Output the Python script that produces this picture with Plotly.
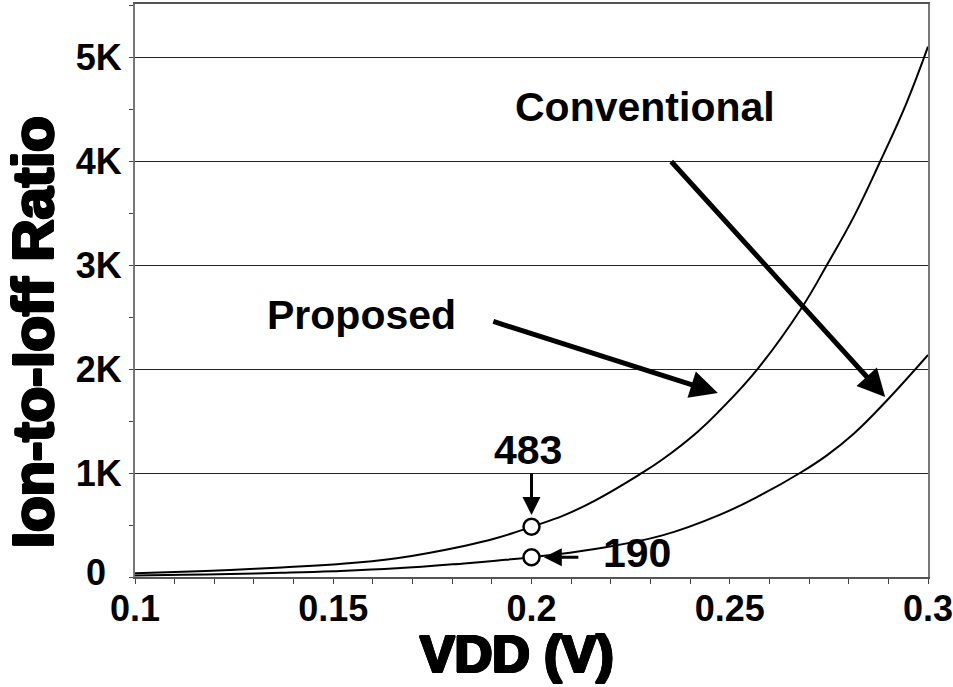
import plotly.graph_objects as go

# Data
vdd_proposed = [0.100, 0.112, 0.124, 0.137, 0.150, 0.166, 0.183, 0.191, 0.200, 0.208, 0.216,
                0.227, 0.233, 0.242, 0.2476, 0.257, 0.268, 0.2745, 0.2815, 0.288, 0.2946, 0.300]
ratio_proposed = [35, 50, 67, 92, 120, 180, 298, 372, 483, 590, 735,
                  980, 1130, 1400, 1606, 2000, 2580, 3000, 3480, 4000, 4560, 5100]

vdd_conventional = [0.100, 0.112, 0.124, 0.137, 0.150, 0.166, 0.183, 0.191, 0.200, 0.216, 0.233,
                    0.2476, 0.2577, 0.2677, 0.2745, 0.2812, 0.2892, 0.300]
ratio_conventional = [14, 21, 29, 40, 55, 83, 131, 157, 190, 270, 400,
                      600, 785, 1000, 1170, 1375, 1680, 2135]

marked_vdd = [0.2, 0.2]
marked_ratio = [483, 190]

x_tickvals = [0.1, 0.15, 0.2, 0.25, 0.3]
x_ticktext = ["0.1", "0.15", "0.2", "0.25", "0.3"]
y_tickvals = [0, 1000, 2000, 3000, 4000, 5000]
y_ticktext = ["", "1K", "2K", "3K", "4K", "5K"]

FONT = "Liberation Sans, Arial, sans-serif"
HEAVY = ("1.6px 0 0 #000, -1.6px 0 0 #000, 0 1.2px 0 #000, 0 -1.2px 0 #000, "
         "1.2px 1.2px 0 #000, -1.2px -1.2px 0 #000, 1.2px -1.2px 0 #000, -1.2px 1.2px 0 #000")

fig = go.Figure()
fig.add_trace(go.Scatter(x=vdd_proposed, y=ratio_proposed, mode="lines",
                         line=dict(color="black", width=2, shape="spline", smoothing=1.2),
                         name="Proposed", showlegend=False, hoverinfo="skip"))
fig.add_trace(go.Scatter(x=vdd_conventional, y=ratio_conventional, mode="lines",
                         line=dict(color="black", width=2, shape="spline", smoothing=1.2),
                         name="Conventional", showlegend=False, hoverinfo="skip"))
fig.add_trace(go.Scatter(x=marked_vdd, y=marked_ratio, mode="markers",
                         marker=dict(symbol="circle", size=16, color="white",
                                     line=dict(color="black", width=2.5)),
                         showlegend=False, hoverinfo="skip"))

tick_font = dict(family=FONT, size=36, color="black", weight="bold")
ann_font = dict(family=FONT, size=41, color="black", weight="bold")

annotations = [
    # axis titles
    dict(text="Ion-to-Ioff Ratio", xref="paper", yref="paper", x=-0.1286, y=0.4276,
         textangle=-90, showarrow=False, xanchor="center", yanchor="middle",
         font=dict(family=FONT, size=58, color="black", weight="bold", shadow=HEAVY)),
    dict(text="VDD (V)", xref="paper", yref="paper", x=0.4817, y=-0.1344,
         showarrow=False, xanchor="center", yanchor="middle",
         font=dict(family=FONT, size=52, color="black", weight="bold", shadow=HEAVY)),
    # the "0" tick label, offset as in the reference
    dict(text="0", xref="paper", yref="paper", x=-0.0492, y=0.007, showarrow=False,
         xanchor="center", yanchor="middle", font=tick_font),
    # labels
    dict(text="Conventional", x=0.2286, y=4519, xref="x", yref="y", showarrow=False,
         xanchor="center", yanchor="middle", font=ann_font),
    dict(text="Proposed", x=0.157, y=2519, xref="x", yref="y", showarrow=False,
         xanchor="center", yanchor="middle", font=ann_font),
    dict(text="483", x=0.1991, y=1221, xref="x", yref="y", showarrow=False,
         xanchor="center", yanchor="middle", font=ann_font),
    dict(text="190", x=0.2266, y=231, xref="x", yref="y", showarrow=False,
         xanchor="center", yanchor="middle", font=ann_font),
    # arrows
    dict(x=0.2892, y=1731, ax=0.2349, ay=4010, xref="x", yref="y", axref="x", ayref="y",
         showarrow=True, arrowhead=2, arrowsize=1.1, arrowwidth=5, arrowcolor="black", text=""),
    dict(x=0.2470, y=1769, ax=0.1900, ay=2462, xref="x", yref="y", axref="x", ayref="y",
         showarrow=True, arrowhead=2, arrowsize=1.1, arrowwidth=5, arrowcolor="black", text=""),
    dict(x=0.2, y=596, ax=0.2, ay=1010, xref="x", yref="y", axref="x", ayref="y",
         showarrow=True, arrowhead=2, arrowsize=1.2, arrowwidth=3, arrowcolor="black", text=""),
    dict(x=0.2031, y=190, ax=0.2122, ay=190, xref="x", yref="y", axref="x", ayref="y",
         showarrow=True, arrowhead=2, arrowsize=1.2, arrowwidth=3, arrowcolor="black", text=""),
]

fig.update_layout(
    width=953, height=687,
    margin=dict(l=135, r=25, t=4, b=110),
    paper_bgcolor="white", plot_bgcolor="white",
    annotations=annotations,
    showlegend=False,
)
fig.update_xaxes(
    range=[0.1, 0.3], tickmode="array", tickvals=x_tickvals, ticktext=x_ticktext,
    ticks="outside", ticklen=5, tickwidth=1, tickcolor="#444",
    minor=dict(dtick=0.01, tick0=0.1, ticks="outside", ticklen=5, tickcolor="#444"),
    showgrid=False, zeroline=False,
    showline=True, linecolor="#555", linewidth=2, mirror=True,
    tickfont=tick_font, automargin=False, ticklabeloverflow="allow",
    ticklabelstandoff=-6,
)
fig.update_yaxes(
    range=[0, 5510], tickmode="array", tickvals=y_tickvals, ticktext=y_ticktext,
    ticks="outside", ticklen=4, tickwidth=1, tickcolor="#444",
    minor=dict(dtick=500, tick0=0, ticks="outside", ticklen=4, tickcolor="#444", showgrid=False),
    showgrid=True, gridcolor="#222", gridwidth=1, zeroline=False,
    showline=True, linecolor="#777", linewidth=2, mirror=True,
    tickfont=tick_font, automargin=False, ticklabeloverflow="allow",
)

fig.write_html("out.html",
               config={"displayModeBar": False},
               post_script="document.body.style.margin='0';document.body.style.overflow='hidden';")
